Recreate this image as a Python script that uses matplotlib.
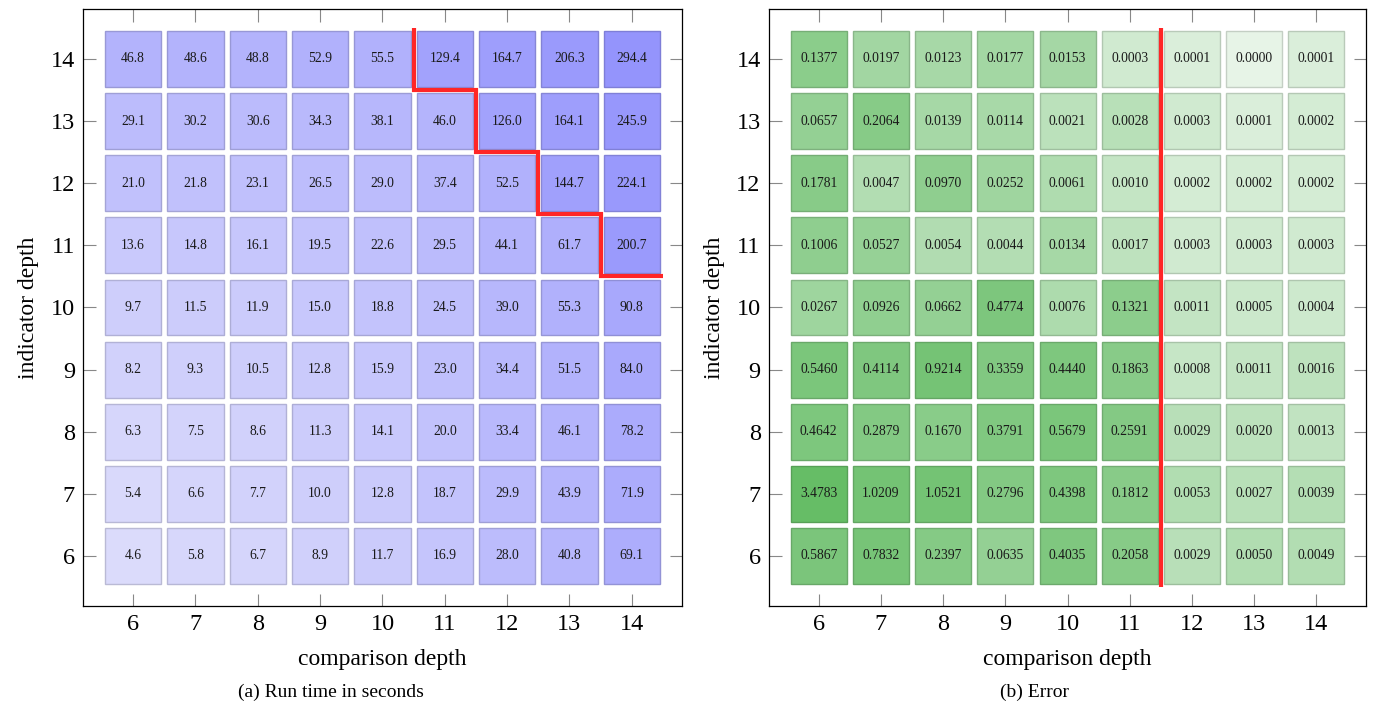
import numpy as np
import matplotlib
matplotlib.use("Agg")
import matplotlib.pyplot as plt
from matplotlib.patches import Rectangle

plt.rcParams['font.family'] = ['Liberation Serif', 'DejaVu Serif']

comparison_depth = [6, 7, 8, 9, 10, 11, 12, 13, 14]
indicator_depth = [6, 7, 8, 9, 10, 11, 12, 13, 14]

# rows: indicator depth 6..14 ; columns: comparison depth 6..14
runtime = [
    [4.6, 5.8, 6.7, 8.9, 11.7, 16.9, 28.0, 40.8, 69.1],
    [5.4, 6.6, 7.7, 10.0, 12.8, 18.7, 29.9, 43.9, 71.9],
    [6.3, 7.5, 8.6, 11.3, 14.1, 20.0, 33.4, 46.1, 78.2],
    [8.2, 9.3, 10.5, 12.8, 15.9, 23.0, 34.4, 51.5, 84.0],
    [9.7, 11.5, 11.9, 15.0, 18.8, 24.5, 39.0, 55.3, 90.8],
    [13.6, 14.8, 16.1, 19.5, 22.6, 29.5, 44.1, 61.7, 200.7],
    [21.0, 21.8, 23.1, 26.5, 29.0, 37.4, 52.5, 144.7, 224.1],
    [29.1, 30.2, 30.6, 34.3, 38.1, 46.0, 126.0, 164.1, 245.9],
    [46.8, 48.6, 48.8, 52.9, 55.5, 129.4, 164.7, 206.3, 294.4],
]

error = [
    [0.5867, 0.7832, 0.2397, 0.0635, 0.4035, 0.2058, 0.0029, 0.0050, 0.0049],
    [3.4783, 1.0209, 1.0521, 0.2796, 0.4398, 0.1812, 0.0053, 0.0027, 0.0039],
    [0.4642, 0.2879, 0.1670, 0.3791, 0.5679, 0.2591, 0.0029, 0.0020, 0.0013],
    [0.5460, 0.4114, 0.9214, 0.3359, 0.4440, 0.1863, 0.0008, 0.0011, 0.0016],
    [0.0267, 0.0926, 0.0662, 0.4774, 0.0076, 0.1321, 0.0011, 0.0005, 0.0004],
    [0.1006, 0.0527, 0.0054, 0.0044, 0.0134, 0.0017, 0.0003, 0.0003, 0.0003],
    [0.1781, 0.0047, 0.0970, 0.0252, 0.0061, 0.0010, 0.0002, 0.0002, 0.0002],
    [0.0657, 0.2064, 0.0139, 0.0114, 0.0021, 0.0028, 0.0003, 0.0001, 0.0002],
    [0.1377, 0.0197, 0.0123, 0.0177, 0.0153, 0.0003, 0.0001, 0.0000, 0.0001],
]

# first comparison depth that exceeds the time budget, per indicator depth
frontier_rows = [14, 13, 12, 11]
frontier_cols = [11, 12, 13, 14]
# error panel separation
error_split = 11.5

caption_a = "(a) Run time in seconds"
caption_b = "(b) Error"

fig = plt.figure(figsize=(13.76, 7.25), dpi=100)
ax1 = fig.add_axes([0.0605, 0.1646, 0.4349, 0.8226])
ax2 = fig.add_axes([0.5589, 0.1646, 0.4339, 0.8226])


def lerp(c0, c1, t):
    return tuple(a + (b - a) * t for a, b in zip(c0, c1))


def draw_grid(ax, data, fmt, light, dark, transform):
    arr = np.array(data, dtype=float)
    tv = transform(arr)
    tmin, tmax = tv.min(), tv.max()
    for i, yv in enumerate(indicator_depth):
        for j, xv in enumerate(comparison_depth):
            t = (tv[i, j] - tmin) / (tmax - tmin)
            fc = lerp(light, dark, t)
            ec = tuple(c * 0.85 for c in fc)
            ax.add_patch(Rectangle((xv - 0.45, yv - 0.45), 0.9, 0.9,
                                   facecolor=fc, edgecolor=ec, linewidth=1.0))
            ax.text(xv, yv, fmt.format(arr[i, j]), ha='center', va='center',
                    fontsize=9.8, color='#1a1a1a')


def style(ax):
    ax.set_xlim(5.2, 14.8)
    ax.set_ylim(5.2, 14.8)
    ax.set_xticks(comparison_depth)
    ax.set_yticks(indicator_depth)
    ax.tick_params(direction='in', length=9, width=0.8, color='#888888',
                   top=True, right=True, labelsize=17.5, pad=6)
    for s in ax.spines.values():
        s.set_linewidth(0.9)
    ax.set_xlabel("comparison depth", fontsize=17, labelpad=10)
    ax.set_ylabel("indicator depth", fontsize=17, labelpad=8)


draw_grid(ax1, runtime, "{:.1f}", (0.86, 0.86, 0.985), (0.58, 0.58, 0.99),
          np.log)
draw_grid(ax2, error, "{:.4f}", (0.905, 0.955, 0.905), (0.40, 0.74, 0.40),
          lambda a: np.log10(a + 5e-5))
style(ax1)
style(ax2)

# red staircase frontier on run-time panel
sx, sy = [frontier_cols[0] - 0.5], [frontier_rows[0] + 0.5]
for k, (r, c) in enumerate(zip(frontier_rows, frontier_cols)):
    sx.append(c - 0.5)
    sy.append(r - 0.5)
    nxt = frontier_cols[k + 1] - 0.5 if k + 1 < len(frontier_cols) else c + 0.5
    sx.append(nxt)
    sy.append(r - 0.5)
ax1.plot(sx, sy, color='#ff2626', linewidth=3, solid_joinstyle='miter',
         solid_capstyle='butt', zorder=5)

ax2.plot([error_split, error_split], [5.5, 14.5], color='#ff2626',
         linewidth=3, solid_capstyle='butt', zorder=5)

fig.text(0.2407, 0.045, caption_a, ha='center', va='center', fontsize=14)
fig.text(0.752, 0.045, caption_b, ha='center', va='center', fontsize=14)

fig.savefig("out.png", dpi=100)
